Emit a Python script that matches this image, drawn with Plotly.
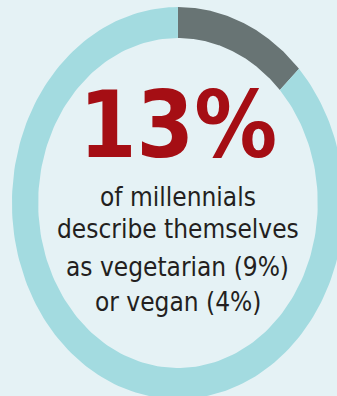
import numpy as np
import plotly.graph_objects as go

# Survey shares (percent of millennials)
groups = ["Vegetarian or vegan", "Other"]
vegetarian = 9
vegan = 4
shares = [vegetarian + vegan, 100 - (vegetarian + vegan)]
ring_colors = ["#687474", "#a3dbe0"]

caption_lines = [
    "of millennials",
    "describe themselves",
    f"as vegetarian ({vegetarian}%)",
    f"or vegan ({vegan}%)",
]

BG = "#e5f2f5"
OUTER, INNER = 1.0, 0.842
FONT = "DejaVu Sans Condensed, Roboto, sans-serif"

fig = go.Figure()

# Ring segments, clockwise from 12 o'clock, sized by share
start = 0.0
for name, share, color in zip(groups, shares, ring_colors):
    end = start + share / 100 * 2 * np.pi
    t = np.linspace(start, end, 200)
    xs = np.concatenate([OUTER * np.sin(t), INNER * np.sin(t[::-1])])
    ys = np.concatenate([OUTER * np.cos(t), INNER * np.cos(t[::-1])])
    fig.add_trace(go.Scatter(
        x=np.append(xs, xs[0]), y=np.append(ys, ys[0]),
        mode="lines", fill="toself", fillcolor=color,
        line=dict(width=0, color=color), name=name,
        hoverinfo="name", showlegend=False,
    ))
    start = end

# Headline figure
fig.add_annotation(
    x=0, y=0.393, text=f"<b>{shares[0]}%</b>", showarrow=False,
    font=dict(family=FONT, size=92, color="#a50e14"),
    xanchor="center", yanchor="middle",
)

# Caption below the headline
line_y = [0.033, -0.135, -0.325, -0.505]
for txt, y in zip(caption_lines, line_y):
    fig.add_annotation(
        x=0, y=y, text=txt, showarrow=False,
        font=dict(family=FONT, size=26, color="#231f20"),
        xanchor="center", yanchor="middle",
    )

fig.update_layout(
    width=337, height=396,
    margin=dict(l=0, r=0, t=0, b=0),
    paper_bgcolor=BG, plot_bgcolor=BG,
    xaxis=dict(range=[-1.072, 0.958], visible=False, fixedrange=True),
    yaxis=dict(range=[-0.985, 1.036], visible=False, fixedrange=True),
    showlegend=False,
)

fig.write_html("out.html", config={"displayModeBar": False})
